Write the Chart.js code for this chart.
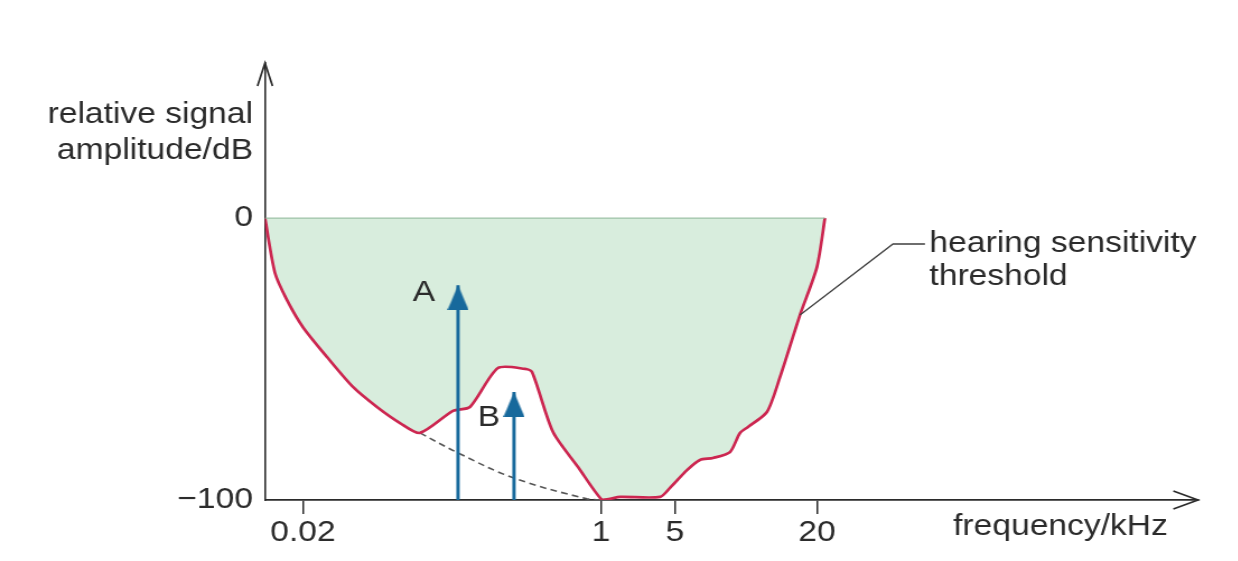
<!DOCTYPE html>
<html><head><meta charset="utf-8">
<script src="https://cdn.jsdelivr.net/npm/chart.js@4.4.1/dist/chart.umd.min.js"></script>
<style>
html,body{margin:0;padding:0;background:#fff;overflow:hidden;width:1238px;height:561px}
#wrap{position:absolute;left:0;top:0;width:1105.36px;height:561px;transform:scaleX(1.12);transform-origin:0 0}
</style></head><body>
<div id="wrap"><canvas id="c"></canvas></div>
<script>
// ---- data (schematic frequency axis position units, level in dB) ----
const xTickPositions = [4.07, 36.0, 43.94, 59.16];
const xTickLabels = ['0.02', '1', '5', '20'];
const yTickValues = [-100, 0];
const yTickLabels = ['\u2212100', '0'];
const thresholdX = [0, 1.07, 2.36, 4.07, 6.65, 9.43, 12.0, 14.47, 16.61, 20.15, 21.97, 24.97, 27.87, 28.62, 30.87, 33.55, 36.12, 36.98, 38.05, 42.34, 43.41, 45.23, 46.62, 48.02, 49.84, 50.91, 51.77, 53.80, 55.20, 57.34, 59.16, 60.02];
const thresholdDb = [0, -19.5, -29.1, -38.7, -49.3, -59.9, -67.0, -72.7, -76.2, -68.4, -67.0, -53.2, -53.5, -54.6, -75.9, -88.3, -100, -99.6, -98.9, -98.9, -95.7, -89.4, -85.8, -85.1, -83.0, -76.2, -74.1, -68.8, -56.4, -34.4, -17.4, 0];
const quietX = [16.61, 20.69, 26.69, 34.51, 36.12];
const quietDb = [-76.2, -83.3, -92.2, -99.6, -100];
const toneNames = ['A', 'B'];
const toneX = [20.69, 26.69];
const toneDb = [-23.8, -61.7];
const toneLabelX = [17.04, 24.0];
const toneLabelDb = [-26.6, -70.9];
const leaderX = [70.74, 67.31, 57.34];
const leaderDb = [-9.2, -9.2, -34.4];
const xRange = [0, 100];
const yRange = [-100, 55];
const yTitle = ['relative signal', 'amplitude/dB'];
const xTitle = 'frequency/kHz';
const curveLabel = ['hearing sensitivity', 'threshold'];

// ---- styles ----
const FAMILY = '"Liberation Sans", Arial, sans-serif';
const FONT = '30px ' + FAMILY;
const TXT = '#2b2b2b';
const BLUE = '#17699c';
const RED = '#cc2650';

function makeHead(color){
  const w = 19, h = 25;
  const c = document.createElement('canvas');
  c.width = w; c.height = 2*h;
  const g = c.getContext('2d');
  g.fillStyle = color;
  g.beginPath(); g.moveTo(w/2, h); g.lineTo(w, 2*h); g.lineTo(0, 2*h); g.closePath(); g.fill();
  return c;
}
const head = makeHead(BLUE);

const pts = (xs, ys) => xs.map((x, i) => ({x, y: ys[i]}));

const datasets = [];
toneX.forEach((tx, i) => {
  datasets.push({
    data: [{x: tx, y: yRange[0]}, {x: tx, y: toneDb[i]}],
    borderColor: BLUE, borderWidth: 3, borderCapStyle: 'butt',
    pointStyle: ['circle', head], pointRadius: [0, 5], pointBackgroundColor: BLUE,
    fill: false, order: 0
  });
});
datasets.push({
  data: pts(leaderX, leaderDb), borderColor: '#3f3f3f', borderWidth: 1.3,
  pointRadius: 0, fill: false, order: 0
});
datasets.push({
  data: [{x: thresholdX[0], y: 0}, {x: thresholdX[thresholdX.length-1], y: 0}],
  borderColor: 'rgba(150,188,160,0.9)', borderWidth: 1.2, pointRadius: 0, fill: false, order: 1
});
datasets.push({
  data: pts(thresholdX, thresholdDb), borderColor: RED, borderWidth: 2.7,
  backgroundColor: 'rgb(216,237,221)', fill: {value: 0}, tension: 0.25,
  pointRadius: 0, order: 2
});
datasets.push({
  data: pts(quietX, quietDb), borderColor: '#555', borderWidth: 1.6, borderDash: [6, 4],
  tension: 0.4, pointRadius: 0, fill: false, order: 3
});

const deco = {
  id: 'deco',
  afterDraw(chart){
    const {ctx, chartArea: a, scales: {x, y}} = chart;
    ctx.save();
    ctx.strokeStyle = TXT; ctx.lineWidth = 1.7; ctx.lineJoin = 'miter';
    ctx.beginPath();
    ctx.moveTo(a.left - 6.7, a.top + 23); ctx.lineTo(a.left, a.top); ctx.lineTo(a.left + 6.7, a.top + 23);
    ctx.stroke();
    ctx.beginPath();
    ctx.moveTo(a.right - 22, a.bottom - 9); ctx.lineTo(a.right, a.bottom); ctx.lineTo(a.right - 22, a.bottom + 9);
    ctx.stroke();
    ctx.fillStyle = TXT; ctx.font = FONT;
    ctx.textAlign = 'center'; ctx.textBaseline = 'middle';
    toneNames.forEach((n, i) => ctx.fillText(n, x.getPixelForValue(toneLabelX[i]), y.getPixelForValue(toneLabelDb[i])));
    ctx.textBaseline = 'alphabetic';
    ctx.textAlign = 'right';
    ctx.fillText(yTitle[0], a.left - 10.7, 123);
    ctx.fillText(yTitle[1], a.left - 10.7, 159);
    ctx.textAlign = 'left';
    ctx.fillText(xTitle, 851, 535);
    const lx = x.getPixelForValue(leaderX[0]) + 4;
    ctx.fillText(curveLabel[0], lx, 252);
    ctx.fillText(curveLabel[1], lx, 285);
    ctx.restore();
  }
};

new Chart(document.getElementById('c'), {
  type: 'line',
  data: {datasets},
  plugins: [deco],
  options: {
    responsive: true, maintainAspectRatio: false, animation: false, events: [],
    layout: {padding: {left: 0, right: 35.8, top: 63, bottom: 0}},
    plugins: {legend: {display: false}, tooltip: {enabled: false}},
    scales: {
      x: {
        type: 'linear', min: xRange[0], max: xRange[1],
        afterFit: s => { s.height = 61; },
        afterBuildTicks: s => { s.ticks = xTickPositions.map(v => ({value: v})); },
        ticks: {
          autoSkip: false, maxRotation: 0, padding: 1, color: TXT,
          font: {family: FAMILY, size: 30},
          callback: (v) => { const i = xTickPositions.indexOf(v); return i >= 0 ? xTickLabels[i] : ''; }
        },
        grid: {display: true, drawOnChartArea: false, drawTicks: true, tickLength: 14, color: TXT, lineWidth: 1.5},
        border: {display: true, color: TXT, width: 1.8}
      },
      y: {
        type: 'linear', min: yRange[0], max: yRange[1],
        afterFit: s => { s.width = 236.6; },
        afterBuildTicks: s => { s.ticks = yTickValues.map(v => ({value: v})); },
        ticks: {
          autoSkip: false, padding: 10.7, color: TXT,
          font: {family: FAMILY, size: 30},
          callback: (v) => { const i = yTickValues.indexOf(v); return i >= 0 ? yTickLabels[i] : ''; }
        },
        grid: {display: false, drawTicks: false},
        border: {display: true, color: TXT, width: 1.6}
      }
    }
  }
});
</script>
</body></html>
